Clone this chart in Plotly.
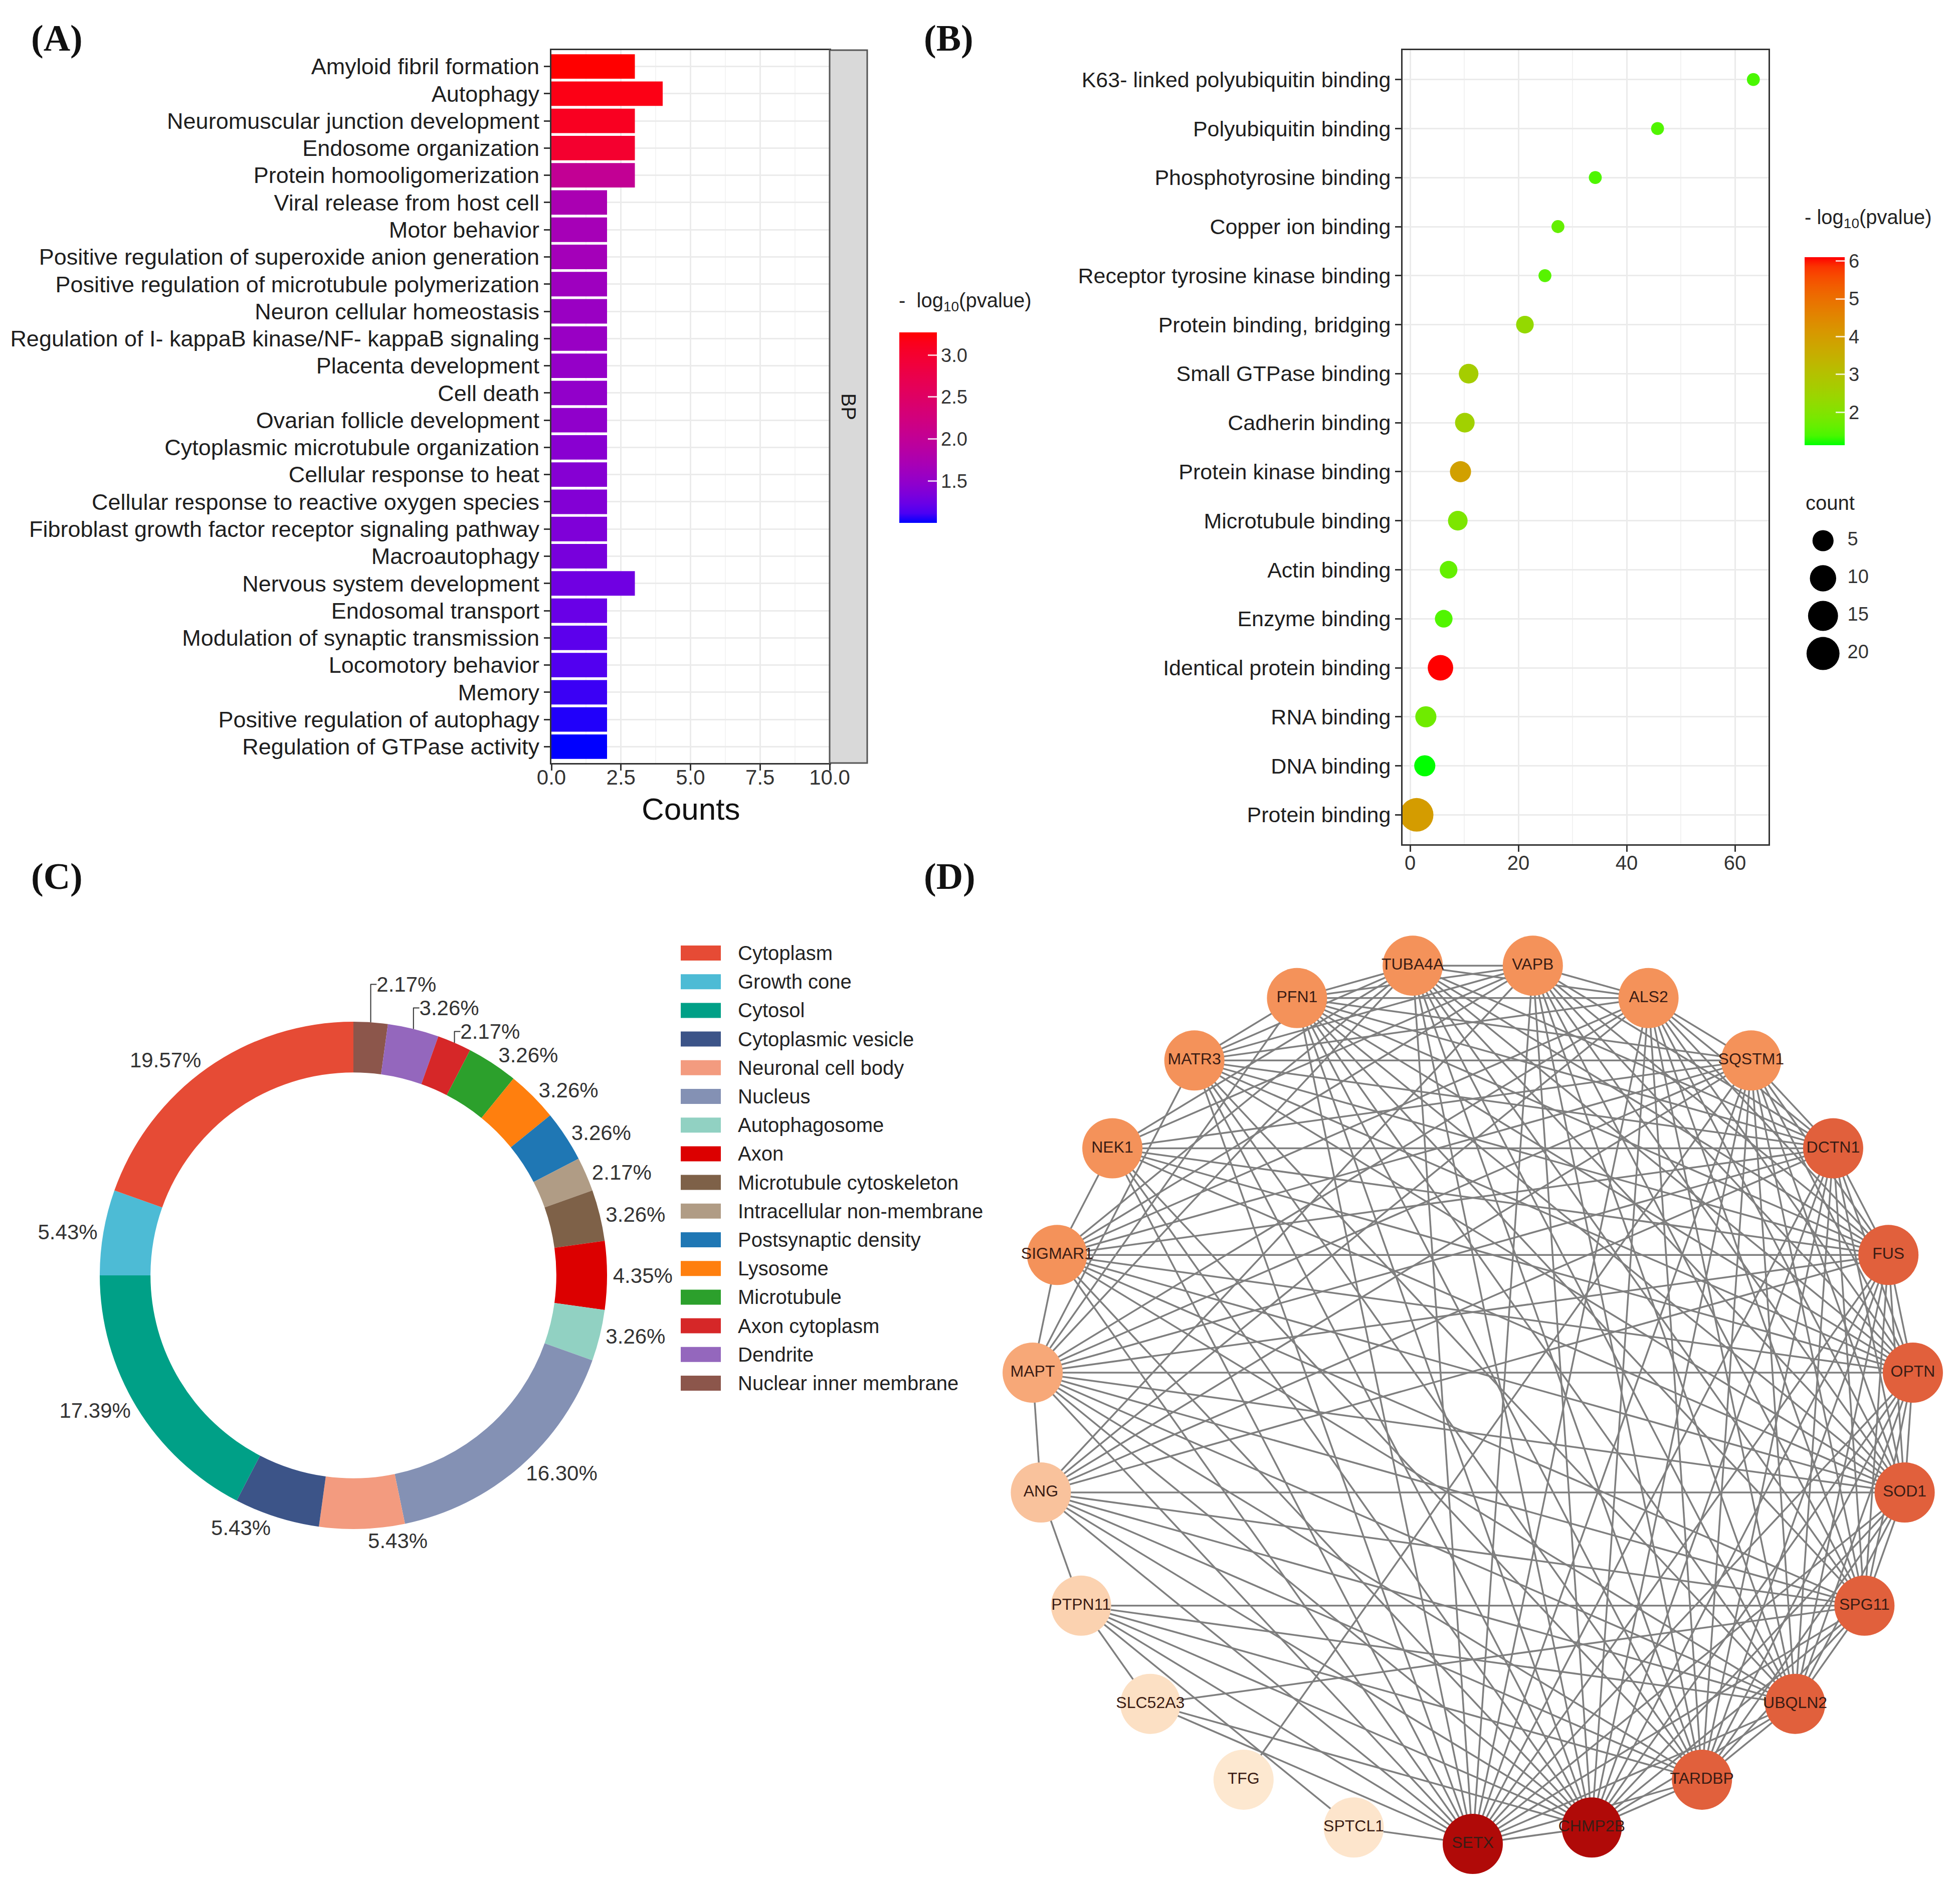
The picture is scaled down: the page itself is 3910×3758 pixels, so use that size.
import math
import plotly.graph_objects as go

W, H = 3910, 3758
def px(x): return x / W
def py(y): return 1 - y / H

FONT = "Liberation Sans"
SERIF = "Liberation Serif"

# ---------------- Panel A data (GO BP) ----------------
bp_terms = [
    "Amyloid fibril formation", "Autophagy", "Neuromuscular junction development",
    "Endosome organization", "Protein homooligomerization", "Viral release from host cell",
    "Motor behavior", "Positive regulation of superoxide anion generation",
    "Positive regulation of microtubule polymerization", "Neuron cellular homeostasis",
    "Regulation of I- kappaB kinase/NF- kappaB signaling", "Placenta development",
    "Cell death", "Ovarian follicle development", "Cytoplasmic microtubule organization",
    "Cellular response to heat", "Cellular response to reactive oxygen species",
    "Fibroblast growth factor receptor signaling pathway", "Macroautophagy",
    "Nervous system development", "Endosomal transport", "Modulation of synaptic transmission",
    "Locomotory behavior", "Memory", "Positive regulation of autophagy",
    "Regulation of GTPase activity",
]
bp_counts = [3, 4, 3, 3, 3, 2, 2, 2, 2, 2, 2, 2, 2, 2, 2, 2, 2, 2, 2, 3, 2, 2, 2, 2, 2, 2]
bp_logp = [3.27, 3.18, 3.11, 3.00, 2.02, 1.73, 1.68, 1.66, 1.61, 1.57, 1.56, 1.52, 1.50,
           1.48, 1.43, 1.41, 1.39, 1.36, 1.32, 1.27, 1.23, 1.18, 1.14, 1.09, 1.05, 1.00]
bp_xticks = [0, 2.5, 5, 7.5, 10]
bp_xticklabels = ["0.0", "2.5", "5.0", "7.5", "10.0"]
bp_cbar_ticks = [1.5, 2.0, 2.5, 3.0]

# ---------------- Panel B data (GO MF) ----------------
mf_terms = [
    "K63- linked polyubiquitin binding", "Polyubiquitin binding", "Phosphotyrosine binding",
    "Copper ion binding", "Receptor tyrosine kinase binding", "Protein binding, bridging",
    "Small GTPase binding", "Cadherin binding", "Protein kinase binding", "Microtubule binding",
    "Actin binding", "Enzyme binding", "Identical protein binding", "RNA binding",
    "DNA binding", "Protein binding",
]
mf_x = [63.4, 45.7, 34.2, 27.3, 24.9, 21.2, 10.8, 10.1, 9.3, 8.8, 7.1, 6.2, 5.6, 2.9, 2.7, 1.2]
mf_count = [2, 2, 2, 2, 2, 3, 4, 4, 5, 4, 3, 3, 9, 5, 5, 21]
mf_logp = [1.38, 1.45, 1.42, 1.62, 1.50, 2.30, 2.65, 2.55, 3.90, 1.90, 1.62, 1.45, 6.10, 1.75, 1.13, 4.00]
mf_xticks = [0, 20, 40, 60]
mf_cbar_ticks = [2, 3, 4, 5, 6]
mf_size_breaks = [5, 10, 15, 20]

# ---------------- Panel C data (GO CC) ----------------
cc_terms = ["Cytoplasm", "Growth cone", "Cytosol", "Cytoplasmic vesicle", "Neuronal cell body",
            "Nucleus", "Autophagosome", "Axon", "Microtubule cytoskeleton",
            "Intracellular non-membrane", "Postsynaptic density", "Lysosome", "Microtubule",
            "Axon cytoplasm", "Dendrite", "Nuclear inner membrane"]
cc_counts = [18, 5, 16, 5, 5, 15, 3, 4, 3, 2, 3, 3, 3, 2, 3, 2]
cc_colors = ["#E64B35", "#4DBBD5", "#00A087", "#3C5488", "#F39B7F", "#8491B4", "#91D1C2",
             "#DC0000", "#7E6148", "#B09C85", "#1F77B4", "#FF7F0E", "#2CA02C", "#D62728",
             "#9467BD", "#8C564B"]

# ---------------- Panel D data (PPI network) ----------------
ppi_nodes = ["VAPB", "ALS2", "SQSTM1", "DCTN1", "FUS", "OPTN", "SOD1", "SPG11", "UBQLN2",
             "TARDBP", "CHMP2B", "SETX", "SPTCL1", "TFG", "SLC52A3", "PTPN11", "ANG", "MAPT",
             "SIGMAR1", "NEK1", "MATR3", "PFN1", "TUBA4A"]
ppi_degree = [15, 15, 15, 18, 18, 18, 18, 18, 18, 18, 21, 21, 2, 1, 3, 6, 9, 13, 15, 15, 15, 15, 15]
ppi_adjacency = {
    "SETX": ["CHMP2B", "TARDBP", "UBQLN2", "SPG11", "SOD1", "OPTN", "FUS", "DCTN1", "SQSTM1", "ALS2",
             "VAPB", "TUBA4A", "PFN1", "MATR3", "NEK1", "SIGMAR1", "MAPT", "ANG", "PTPN11", "SLC52A3",
             "SPTCL1"],
    "CHMP2B": ["TARDBP", "UBQLN2", "SPG11", "SOD1", "OPTN", "FUS", "DCTN1", "SQSTM1", "ALS2", "VAPB",
               "TUBA4A", "PFN1", "MATR3", "NEK1", "SIGMAR1", "MAPT", "ANG", "PTPN11", "SLC52A3"],
    "TARDBP": ["UBQLN2", "SPG11", "SOD1", "OPTN", "FUS", "DCTN1", "SQSTM1", "ALS2", "VAPB", "TUBA4A",
               "PFN1", "MATR3", "NEK1", "MAPT", "ANG", "PTPN11"],
    "UBQLN2": ["SPG11", "SOD1", "OPTN", "FUS", "DCTN1", "SQSTM1", "ALS2", "VAPB", "TUBA4A", "PFN1",
               "MATR3", "SIGMAR1", "MAPT", "ANG", "PTPN11"],
    "SPG11": ["SOD1", "OPTN", "FUS", "DCTN1", "SQSTM1", "ALS2", "VAPB", "TUBA4A", "PFN1", "SIGMAR1",
              "MAPT", "ANG", "PTPN11", "SLC52A3"],
    "SOD1": ["OPTN", "FUS", "DCTN1", "SQSTM1", "ALS2", "VAPB", "TUBA4A", "PFN1", "MATR3", "NEK1",
             "SIGMAR1", "MAPT", "ANG"],
    "OPTN": ["FUS", "DCTN1", "SQSTM1", "ALS2", "VAPB", "TUBA4A", "PFN1", "MATR3", "NEK1", "SIGMAR1",
             "MAPT"],
    "FUS": ["DCTN1", "SQSTM1", "ALS2", "VAPB", "TUBA4A", "PFN1", "MATR3", "NEK1", "SIGMAR1", "MAPT",
            "ANG"],
    "DCTN1": ["SQSTM1", "ALS2", "VAPB", "TUBA4A", "PFN1", "MATR3", "NEK1", "SIGMAR1", "MAPT", "ANG"],
    "SQSTM1": ["ALS2", "PFN1", "MATR3", "NEK1", "SIGMAR1", "MAPT", "ANG", "TFG"],
    "ALS2": ["VAPB", "TUBA4A", "PFN1", "MATR3", "SIGMAR1", "MAPT", "ANG"],
    "VAPB": ["TUBA4A", "PFN1", "MATR3", "NEK1", "SIGMAR1", "ANG"],
    "TUBA4A": ["PFN1", "MATR3", "NEK1", "SIGMAR1", "MAPT"],
    "PFN1": ["MATR3", "MAPT"],
    "MATR3": ["MAPT"],
    "NEK1": ["SIGMAR1"],
    "SIGMAR1": ["MAPT"],
    "MAPT": ["ANG"],
    "ANG": ["PTPN11"],
    "PTPN11": ["SLC52A3", "SPTCL1"],
}


# ---------------- colour helpers (ggplot-like Lab gradients) ----------------
def _hex_rgb(h):
    h = h.lstrip("#")
    return [int(h[i:i + 2], 16) for i in (0, 2, 4)]

def _rgb_lab(rgb):
    lin = []
    for c in rgb:
        c = c / 255
        lin.append(c / 12.92 if c <= 0.04045 else ((c + 0.055) / 1.055) ** 2.4)
    r, g, b = lin
    X = (0.4124 * r + 0.3576 * g + 0.1805 * b) / 0.95047
    Y = (0.2126 * r + 0.7152 * g + 0.0722 * b)
    Z = (0.0193 * r + 0.1192 * g + 0.9505 * b) / 1.08883
    f = lambda t: t ** (1 / 3) if t > 0.008856 else 7.787 * t + 16 / 116
    fx, fy, fz = f(X), f(Y), f(Z)
    return 116 * fy - 16, 500 * (fx - fy), 200 * (fy - fz)

def _lab_rgb(L, a, b):
    fy = (L + 16) / 116
    fx = fy + a / 500
    fz = fy - b / 200
    finv = lambda t: t ** 3 if t ** 3 > 0.008856 else (t - 16 / 116) / 7.787
    X, Y, Z = finv(fx) * 0.95047, finv(fy), finv(fz) * 1.08883
    r = 3.2406 * X - 1.5372 * Y - 0.4986 * Z
    g = -0.9689 * X + 1.8758 * Y + 0.0415 * Z
    bb = 0.0557 * X - 0.2040 * Y + 1.0570 * Z
    out = []
    for c in (r, g, bb):
        c = max(0.0, min(1.0, c))
        c = 12.92 * c if c <= 0.0031308 else 1.055 * c ** (1 / 2.4) - 0.055
        out.append(int(round(max(0, min(1, c)) * 255)))
    return out

def lab_scale(c1, c2, n=21):
    l1, l2 = _rgb_lab(_hex_rgb(c1)), _rgb_lab(_hex_rgb(c2))
    sc = []
    for i in range(n):
        t = i / (n - 1)
        r, g, b = _lab_rgb(*[l1[k] + (l2[k] - l1[k]) * t for k in range(3)])
        sc.append([t, f"rgb({r},{g},{b})"])
    return sc

scale_A = lab_scale("#0000FF", "#FF0000")
scale_B = lab_scale("#00FF00", "#FF0000")
scale_D = [[0.0, "#FDE8D0"], [0.05, "#FDE5CC"], [0.1, "#FCE0C4"], [0.25, "#FBD2B0"],
           [0.4, "#F9C29C"], [0.6, "#F7A878"], [0.7, "#F4925A"], [0.85, "#E1603C"],
           [1.0, "#B00A08"]]

fig = go.Figure()

# ---------------- Panel A ----------------
fig.add_trace(go.Bar(
    x=bp_counts, y=bp_terms, orientation="h", width=0.9,
    marker=dict(color=bp_logp, colorscale=scale_A, cmin=min(bp_logp), cmax=max(bp_logp),
                line=dict(width=0),
                colorbar=dict(
                    x=px(1786), xanchor="left", y=py(655), yanchor="top",
                    len=380, lenmode="pixels", thickness=75, outlinewidth=0,
                    xpad=0, ypad=0, tickvals=bp_cbar_ticks, ticktext=[f"{v:.1f}" for v in bp_cbar_ticks],
                    ticks="inside", ticklen=18, tickwidth=3, tickcolor="rgba(255,255,255,0.8)",
                    tickfont=dict(family=FONT, size=38, color="#333333"))),
    xaxis="x", yaxis="y", showlegend=False,
))

# ---------------- Panel B ----------------
cmin_c, cmax_c = min(mf_count), max(mf_count)
def dot_diam(c):
    return 10.3 * (2.5 + 4 * math.sqrt(max(0.0, (c - cmin_c) / (cmax_c - cmin_c))))

fig.add_trace(go.Scatter(
    x=mf_x, y=mf_terms, mode="markers",
    marker=dict(size=[dot_diam(c) for c in mf_count], color=mf_logp, colorscale=scale_B,
                cmin=min(mf_logp), cmax=max(mf_logp), line=dict(width=0), opacity=1,
                colorbar=dict(
                    x=px(3592), xanchor="left", y=py(505), yanchor="top",
                    len=375, lenmode="pixels", thickness=80, outlinewidth=0,
                    xpad=0, ypad=0, tickvals=mf_cbar_ticks,
                    ticks="inside", ticklen=18, tickwidth=3, tickcolor="rgba(255,255,255,0.8)",
                    tickfont=dict(family=FONT, size=38, color="#333333"))),
    xaxis="x2", yaxis="y2", showlegend=False,
))

# size legend for panel B
fig.add_trace(go.Scatter(
    x=[0.9] * len(mf_size_breaks), y=mf_size_breaks, mode="markers",
    marker=dict(size=[dot_diam(c) for c in mf_size_breaks], color="#000000", opacity=1,
                line=dict(width=0)),
    xaxis="x4", yaxis="y4", showlegend=False, hoverinfo="skip",
))
fig.add_trace(go.Scatter(
    x=[2.2] * len(mf_size_breaks), y=mf_size_breaks, mode="text",
    text=[str(v) for v in mf_size_breaks], textposition="middle right",
    textfont=dict(family=FONT, size=38, color="#333333"),
    xaxis="x4", yaxis="y4", showlegend=False, hoverinfo="skip",
))

# ---------------- Panel C ----------------
# drawn clockwise from 12 o'clock in reversed order, so that the first category
# runs counter-clockwise from the top as in the reference
fig.add_trace(go.Pie(
    labels=cc_terms[::-1], values=cc_counts[::-1], sort=False, direction="clockwise", rotation=0,
    hole=0.8, marker=dict(colors=cc_colors[::-1], line=dict(width=0)),
    textposition="outside", texttemplate="%{percent:.2%}",
    textfont=dict(family=FONT, size=42, color="#333333"),
    domain=dict(x=[px(697 - 506), px(697 + 506)], y=[py(2536 + 506), py(2536 - 506)]),
    showlegend=False, automargin=False,
))

# ---------------- Panel D ----------------
n_nodes = len(ppi_nodes)
ang = [math.radians(180 / n_nodes * (1 + 2 * k)) for k in range(n_nodes)]
pos = {nm: (math.sin(a), math.cos(a)) for nm, a in zip(ppi_nodes, ang)}
edges = []
seen = set()
for src, dsts in ppi_adjacency.items():
    for d in dsts:
        key = tuple(sorted((src, d)))
        if key not in seen:
            seen.add(key)
            edges.append(key)
ex, ey = [], []
for a, b in edges:
    ex += [pos[a][0], pos[b][0], None]
    ey += [pos[a][1], pos[b][1], None]
fig.add_trace(go.Scatter(x=ex, y=ey, mode="lines", line=dict(color="#7f7f7f", width=3.5),
                         xaxis="x3", yaxis="y3", showlegend=False, hoverinfo="skip"))
fig.add_trace(go.Scatter(
    x=[pos[n][0] for n in ppi_nodes], y=[pos[n][1] for n in ppi_nodes],
    mode="markers+text", text=ppi_nodes, textposition="middle center",
    textfont=dict(family=FONT, size=32, color="#3a1c14"),
    marker=dict(size=120, color=ppi_degree, colorscale=scale_D, cmin=min(ppi_degree),
                cmax=max(ppi_degree), line=dict(width=0), opacity=1),
    xaxis="x3", yaxis="y3", showlegend=False,
))

# ---------------- axes ----------------
fig.update_layout(
    template="none",
    width=W, height=H, autosize=False, margin=dict(l=0, r=0, t=0, b=0, autoexpand=False),
    paper_bgcolor="white", plot_bgcolor="white", showlegend=False,
    xaxis=dict(domain=[px(1092), px(1647)], range=[0, 10.0], tickvals=bp_xticks,
               ticktext=bp_xticklabels, ticks="outside", ticklen=12, tickwidth=3,
               tickcolor="#333333", tickfont=dict(family=FONT, size=42, color="#333333"),
               ticklabelstandoff=-22,
               showgrid=True, gridcolor="#EBEBEB", gridwidth=3,
               minor=dict(dtick=1.25, showgrid=True, gridcolor="#F4F4F4", gridwidth=2, ticks=""),
               showline=True, mirror=True, linecolor="#333333", linewidth=3, zeroline=False,
               anchor="y", automargin=False),
    yaxis=dict(domain=[py(1514), py(92)], type="category", categoryorder="array",
               categoryarray=bp_terms, range=[len(bp_terms) - 0.4, -0.6],
               ticks="outside", ticklen=12, tickwidth=3, tickcolor="#333333",
               tickfont=dict(family=FONT, size=45, color="#1e1e1e"),
               showgrid=True, gridcolor="#EBEBEB", gridwidth=3, zeroline=False,
               showline=True, mirror=True, linecolor="#333333", linewidth=3, anchor="x",
               automargin=False),
    xaxis2=dict(domain=[px(2790), px(3520)], range=[-1.4, 66.2], tickvals=mf_xticks,
                ticks="outside", ticklen=12, tickwidth=3, tickcolor="#333333",
                tickfont=dict(family=FONT, size=40, color="#333333"),
                ticklabelstandoff=-12,
                showgrid=True, gridcolor="#EBEBEB", gridwidth=3,
                minor=dict(dtick=10, showgrid=True, gridcolor="#F2F2F2", gridwidth=2, ticks=""),
                showline=True, mirror=True, linecolor="#333333", linewidth=3, zeroline=False,
                anchor="y2", automargin=False),
    yaxis2=dict(domain=[py(1676), py(92)], type="category", categoryorder="array",
                categoryarray=mf_terms, range=[len(mf_terms) - 0.4, -0.6],
                ticks="outside", ticklen=12, tickwidth=3, tickcolor="#333333",
                tickfont=dict(family=FONT, size=43, color="#1e1e1e"),
                showgrid=True, gridcolor="#EBEBEB", gridwidth=3, zeroline=False,
                showline=True, mirror=True, linecolor="#333333", linewidth=3, anchor="x2",
                automargin=False),
    xaxis3=dict(domain=[px(1970), px(3890)], range=[-1.0909, 1.0909], visible=False,
                anchor="y3", automargin=False),
    yaxis3=dict(domain=[py(3750), py(1830)], range=[-1.0909, 1.0909], visible=False,
                anchor="x3", automargin=False),
    xaxis4=dict(domain=[px(3595), px(3745)], range=[0, 4], visible=False, anchor="y4",
                automargin=False),
    yaxis4=dict(domain=[py(1333), py(1033)], range=[22.5, 2.5], visible=False, anchor="x4",
                automargin=False),
)

shapes = []
annotations = []
def note(x, y, text, size=40, color="#222222", xanchor="left", **kw):
    annotations.append(dict(xref="paper", yref="paper", x=px(x), y=py(y), text=text,
                            showarrow=False, xanchor=xanchor, yanchor="middle",
                            font=dict(family=kw.pop("family", FONT), size=size, color=color), **kw))

# strip for facet "BP"
shapes.append(dict(type="rect", xref="paper", yref="paper", x0=px(1647), x1=px(1722),
                   y0=py(1514), y1=py(92), fillcolor="#D9D9D9",
                   line=dict(color="#555555", width=3), layer="above"))
note(1684.5, 803, "BP", size=40, color="#1a1a1a", xanchor="center", textangle=90)
note(1370, 1605, "Counts", size=62, color="#111111", xanchor="center")
# colour-bar titles and size-legend title
note(1783, 594, "-  log<sub>10</sub>(pvalue)")
note(3590, 428, "- log<sub>10</sub>(pvalue)")
note(3592, 995, "count")
# legend for panel C
for i, (term, col) in enumerate(zip(cc_terms, cc_colors)):
    yc = 1893 + i * 57.2
    shapes.append(dict(type="rect", xref="paper", yref="paper", x0=px(1350), x1=px(1430),
                       y0=py(yc + 15), y1=py(yc - 15), fillcolor=col, line=dict(width=0)))
    note(1462, yc, term)
# panel letters
for lab, (x0, y0) in {"(A)": (52, 68), "(B)": (1833, 68), "(C)": (52, 1740), "(D)": (1833, 1740)}.items():
    note(x0, y0, f"<b>{lab}</b>", size=74, color="#111111", family=SERIF)
fig.update_layout(shapes=shapes, annotations=annotations)

fig.write_html("out.html")
